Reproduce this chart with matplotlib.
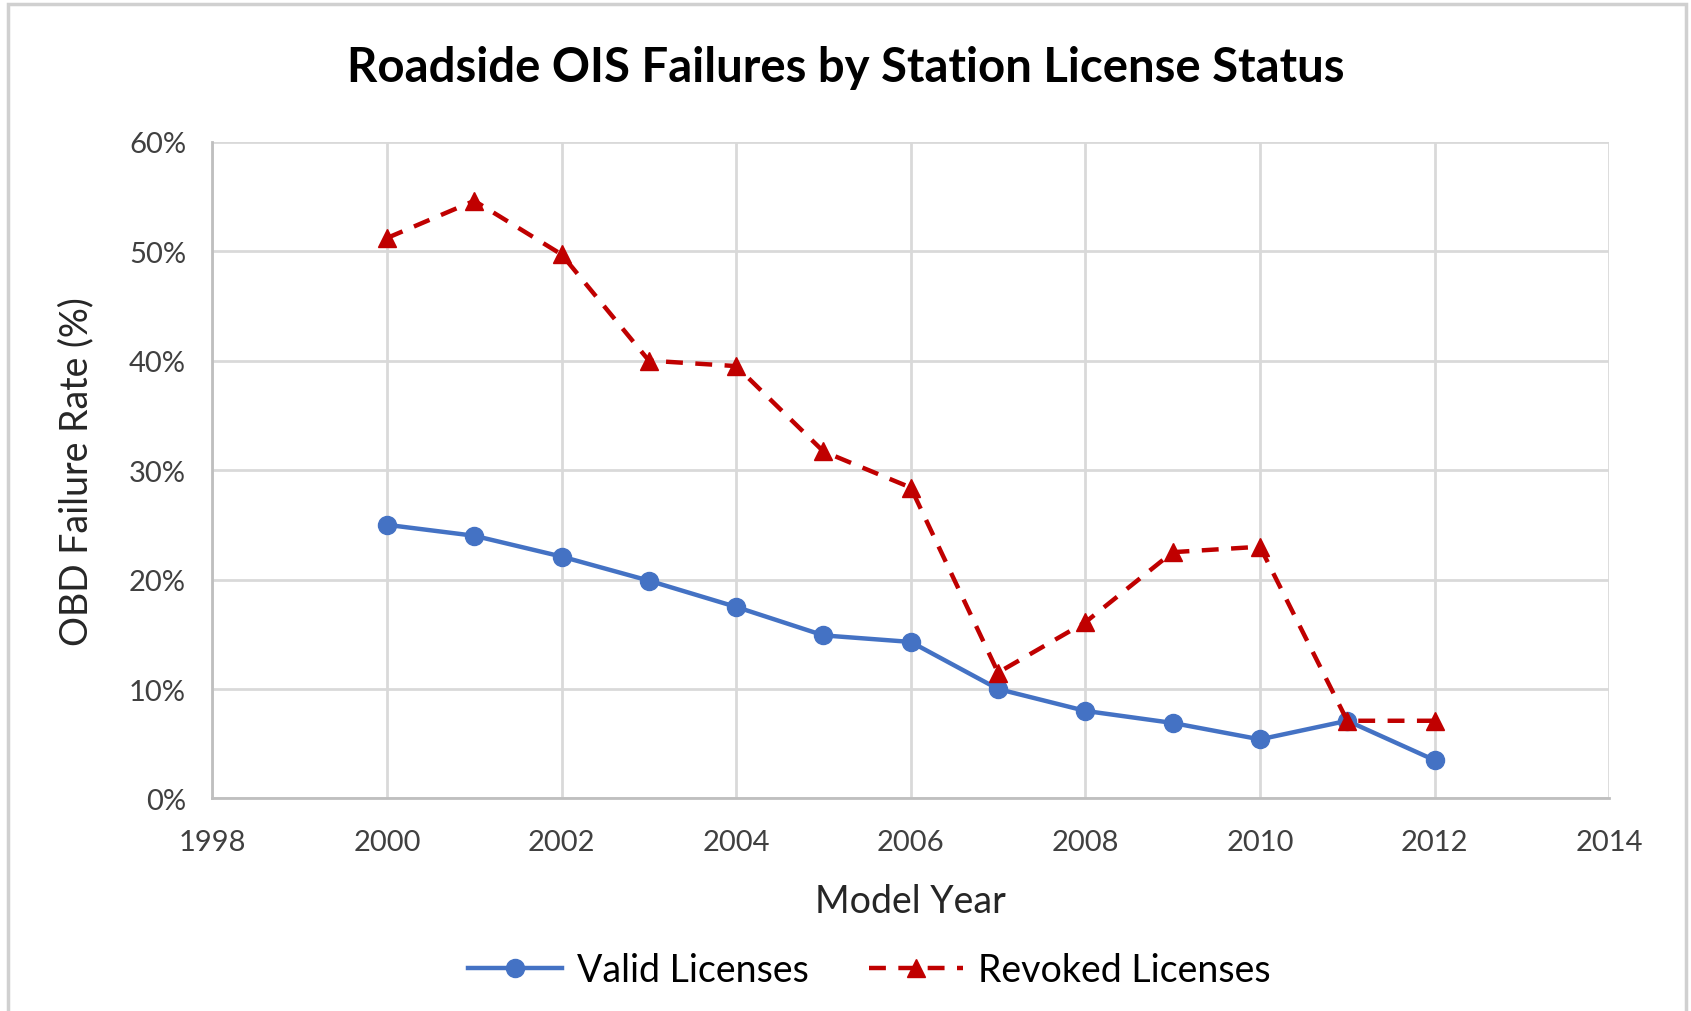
import numpy as np
import matplotlib.pyplot as plt
from matplotlib.patches import Rectangle
from matplotlib.ticker import FuncFormatter, MultipleLocator

years = [2000, 2001, 2002, 2003, 2004, 2005, 2006, 2007, 2008, 2009, 2010, 2011, 2012]
valid = [25.0, 24.0, 22.1, 19.9, 17.5, 14.9, 14.3, 10.0, 8.0, 6.9, 5.4, 7.1, 3.5]
revoked = [51.2, 54.6, 49.7, 40.0, 39.5, 31.7, 28.4, 11.5, 16.1, 22.5, 23.0, 7.1, 7.1]

plt.rcParams['font.family'] = ['Lato', 'DejaVu Sans']

fig = plt.figure(figsize=(16.91, 10.12), dpi=100)
ax = fig.add_axes([0.1256, 0.210, 0.826, 0.649])

# light frame around the chart
fig.patches.append(Rectangle((0.005, -0.01), 0.992, 1.005, transform=fig.transFigure,
                             fill=False, edgecolor='#d0d0d0', linewidth=2.5))

ax.plot(years, valid, color='#4472C4', linewidth=3.2, marker='o', markersize=13,
        label='Valid Licenses')
ax.plot(years, revoked, color='#C00000', linewidth=3.2, linestyle=(0, (3.8, 2.8)),
        marker='^', markersize=13, label='Revoked Licenses')

ax.set_xlim(1998, 2014)
ax.set_ylim(0, 60)
ax.xaxis.set_major_locator(MultipleLocator(2))
ax.yaxis.set_major_locator(MultipleLocator(10))
ax.yaxis.set_major_formatter(FuncFormatter(lambda v, p: f'{v:.0f}%'))

ax.grid(True, color='#d9d9d9', linewidth=2)
ax.set_axisbelow(True)
for side in ['top', 'right']:
    ax.spines[side].set_visible(False)
for side in ['left', 'bottom']:
    ax.spines[side].set_color('#bfbfbf')
    ax.spines[side].set_linewidth(2)
ax.tick_params(axis='x', length=0, labelsize=21, colors='#404040', pad=22)
ax.tick_params(axis='y', length=0, labelsize=21, colors='#404040', pad=19)

ax.set_xlabel('Model Year', fontsize=27, color='#262626', labelpad=20)
ax.set_ylabel('OBD Failure Rate (%)', fontsize=27, color='#262626', labelpad=25)
fig.text(0.5, 0.933, 'Roadside OIS Failures by Station License Status', fontsize=34,
         fontweight='bold', ha='center', va='center')

fig.legend(loc='center', bbox_to_anchor=(0.514, 0.0405), ncol=2, frameon=False,
           fontsize=27, handlelength=2.5, columnspacing=1.6, handletextpad=0.4)

fig.savefig('out.png', dpi=100)
